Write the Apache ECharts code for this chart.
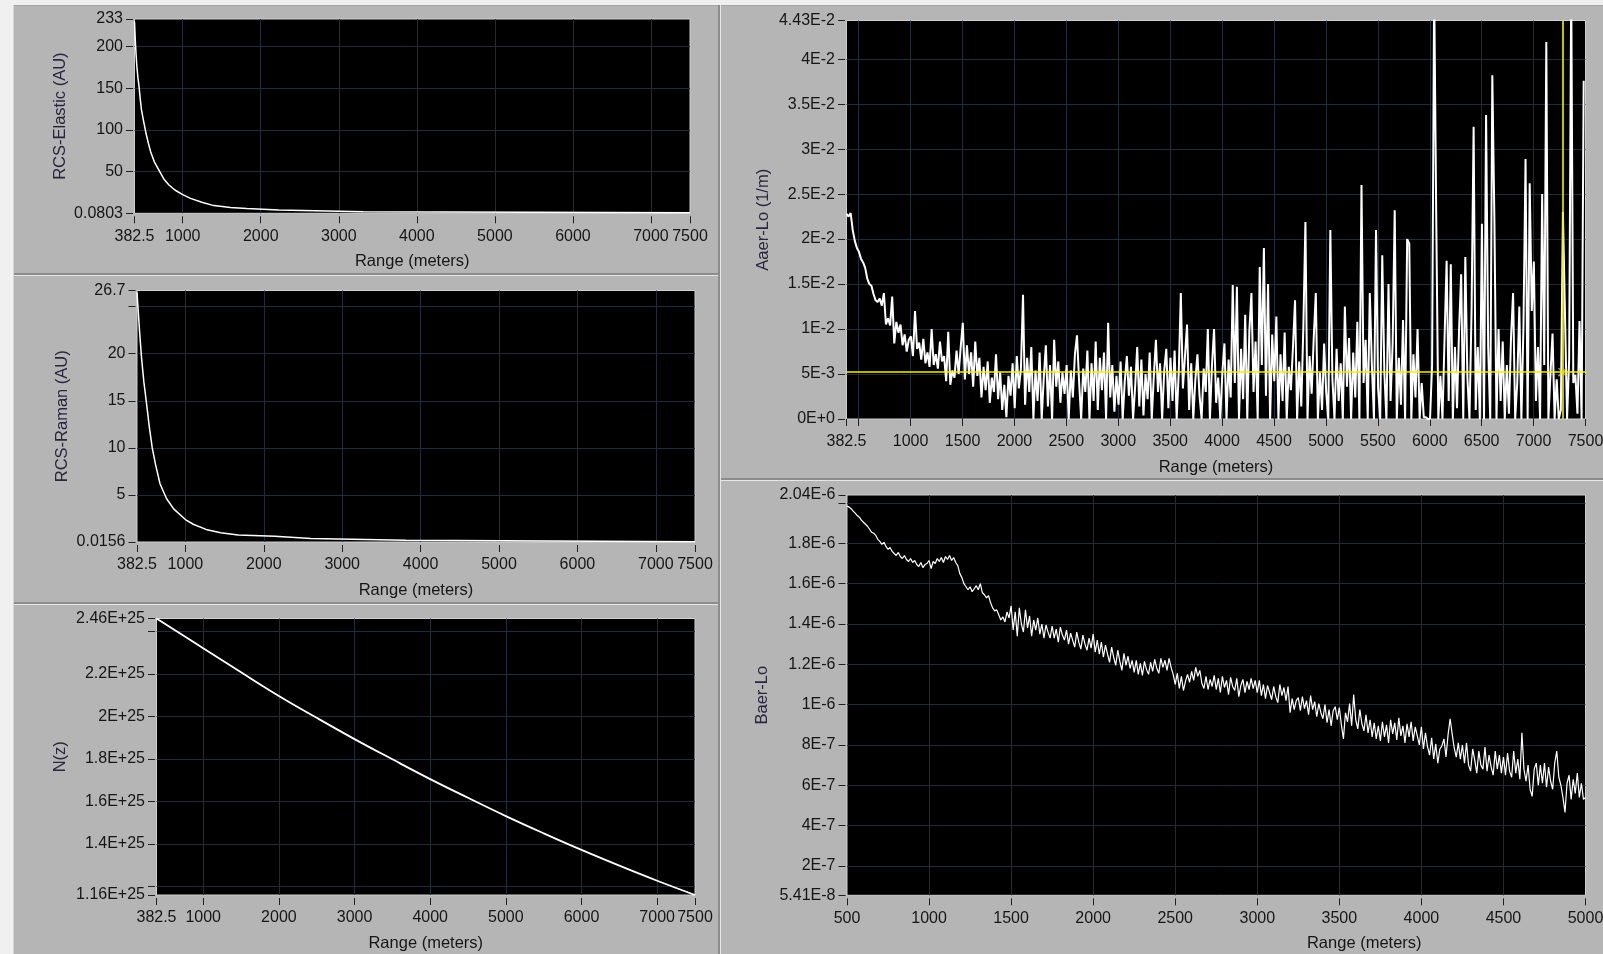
<!DOCTYPE html>
<html><head><meta charset="utf-8">
<script src="https://cdn.jsdelivr.net/npm/echarts@6/dist/echarts.min.js"></script>
<style>html,body{margin:0;padding:0;background:#f0f0f0;overflow:hidden}#c{width:1603px;height:954px}</style>
</head><body><div id="c"></div>
<script>
// ---------------- DATA ----------------
// RCS-Elastic
const elasticRange = [382.5, 388, 395, 403, 412, 426, 441, 456, 472, 500, 530, 560, 589, 640, 706, 760, 824, 900, 1000, 1100, 1255, 1400, 1610, 1620, 1820, 1830, 2230, 2240, 3310, 3320, 7500];
const elasticValue = [230, 218, 203, 190, 177, 163, 152, 137, 124, 110, 96, 84, 74, 61, 50, 41, 34, 28, 22.5, 18, 13, 9.3, 7.0, 6.0, 5.9, 4.0, 3.9, 2.0, 1.9, 0.7, 0.6];
// RCS-Raman
const ramanRange = [382.5, 390, 400, 420, 441, 470, 500, 540, 577, 620, 676, 760, 853, 1000, 1100, 1263, 1450, 1673, 2140, 2150, 2600, 2610, 3810, 3820, 7500];
const ramanValue = [26.5, 25.5, 24.3, 21.8, 19.5, 17.0, 15.0, 12.2, 10.0, 8.2, 6.2, 4.6, 3.5, 2.4, 1.9, 1.35, 1.0, 0.75, 0.62, 0.42, 0.38, 0.22, 0.2, 0.03, 0.03];
// N(z)
const nzRange = [382.5, 1000, 1500, 2000, 2500, 3000, 3500, 4000, 4500, 5000, 5500, 6000, 6500, 7000, 7500];
const nzValue = [2.46e25, 2.32e25, 2.207e25, 2.096e25, 1.993e25, 1.893e25, 1.798e25, 1.705e25, 1.617e25, 1.531e25, 1.45e25, 1.372e25, 1.298e25, 1.227e25, 1.16e25];
// Aaer-Lo, sampled every aaerStep metres from aaerStart, values in units of 1E-3 (1/m)
const aaerStart = 382.5, aaerStep = 20;
const aaerLoMilli = [
 22.8, 22.5, 22.9, 21.0, 19.8, 19.0,
 18.6, 17.8, 17.4, 16.8, 15.6, 15.0, 14.8, 13.9, 13.2, 13.0, 13.4, 12.6, 14.0, 10.5, 11.2, 10.4, 13.6, 8.4, 10.8, 9.6, 10.5, 8.2, 9.4, 7.5, 8.8,
 9.2, 7.0, 12.0, 7.8, 8.5, 6.6, 8.9, 6.2, 7.4, 5.8, 10.0, 6.0, 7.2, 5.6, 8.6, 6.4, 7.0, 4.2, 9.7, 3.8, 5.4, 4.6, 7.6, 5.0, 8.0,
 10.7, 4.4, 8.2, 5.0, 7.4, 3.6, 8.6, 4.8, 6.8, 2.4, 5.8, 3.2, 6.4, 1.8, 4.6, 3.0, 7.2, 2.2, 5.2, 1.0, 3.8, 0.2, 4.8, 2.6, 6.2,
 1.2, 7.0, 3.4, 5.6, 13.8, 1.6, 6.8, 3.0, 8.0, 0.0, 5.4, 2.0, 7.4, 0.0, 4.6, 8.2, 1.4, 6.0, 0.0, 8.8, 3.6, 6.4, 1.8, 5.2, 2.8,
 6.0, 0.0, 5.4, 2.4, 7.2, 9.3, 4.2, 0.0, 5.6, 3.0, 7.6, 0.0, 6.2, 2.0, 8.6, 1.0, 6.8, 3.2, 7.4, 0.0, 10.7, 2.4, 6.0, 0.8, 4.8,
 1.6, 6.4, 0.0, 4.2, 7.0, 2.6, 5.8, 0.0, 3.6, 8.0, 1.4, 6.6, 0.4, 5.0, 2.2, 7.4, 0.0, 4.8, 8.8, 3.0, 6.2, 0.0, 5.4, 7.8, 1.2,
 6.8, 2.0, 7.6, 0.0, 5.2, 14.0, 3.4, 7.0, 10.5, 1.0, 6.2, 0.0, 4.4, 7.2, 2.6, 0.0, 5.6, 3.0, 10.0, 0.0, 6.0, 10.0, 1.8, 4.6, 0.0,
 5.2, 8.4, 0.0, 6.6, 2.4, 14.9, 4.0, 14.7, 0.0, 7.8, 2.2, 11.6, 0.0, 9.8, 14.0, 3.0, 8.6, 0.0, 16.9, 6.0, 19.0, 2.6, 15.0, 0.0, 9.4,
 4.2, 11.4, 0.0, 7.2, 2.0, 9.6, 0.0, 5.8, 3.2, 8.0, 13.2, 0.0, 6.4, 1.4, 10.2, 21.9, 0.0, 7.0, 2.8, 9.0, 14.0, 0.0, 5.2, 1.0, 8.4,
 3.0, 0.0, 21.0, 4.4, 0.0, 7.8, 2.0, 6.2, 0.0, 12.5, 3.6, 9.0, 0.0, 7.4, 2.4, 10.8, 0.0, 26.0, 4.0, 8.8, 0.0, 14.0, 6.0, 0.0, 21.0,
 3.4, 0.0, 18.2, 5.2, 0.0, 15.0, 2.0, 8.4, 23.2, 0.0, 6.8, 1.6, 11.0, 0.0, 20.0, 19.5, 0.0, 7.2, 2.4, 10.0, 0.0, 4.0, 0.2, 0.2, 0.0,
 0.0, 6.0, 48.0, 22.3, 0.0, 4.8, 0.0, 9.0, 17.6, 2.0, 17.2, 0.0, 8.0, 1.2, 10.0, 16.1, 0.0, 18.0, 4.6, 0.0, 12.0, 32.5, 1.0, 8.0, 0.0,
 21.7, 0.0, 33.8, 8.0, 0.0, 38.2, 22.2, 0.0, 10.0, 2.0, 8.6, 0.0, 6.0, 0.6, 9.0, 14.0, 0.0, 4.0, 12.5, 0.0, 10.4, 28.9, 0.0, 26.2, 12.0,
 17.5, 2.0, 8.0, 0.0, 25.0, 6.0, 41.9, 0.0, 5.0, 9.5, 0.0, 4.4, 0.0, 1.0, 23.0, 11.6, 0.0, 6.6, 48.0, 4.0, 4.9, 0.6, 10.9, 0.0, 37.6
];
// Cursor on the Aaer-Lo graph
const cursorRange = 7278, cursorValue = 0.0052;
// Baer-Lo, sampled every baerStep metres from baerStart, values in units of 1E-7
const baerStart = 500, baerStep = 12.5;
const baerLoE7 = [
 19.85, 19.8, 19.72, 19.6, 19.5, 19.38, 19.3, 19.15, 19.05, 18.95, 18.85, 18.7, 18.55, 18.5, 18.4, 18.2, 18.1, 17.95, 18.05, 17.85,
 17.7, 17.8, 17.6, 17.5, 17.4, 17.55, 17.35, 17.25, 17.4, 17.2, 17.1, 17.25, 17.05, 17.15, 16.95, 16.85, 17.05, 16.8, 16.95, 17.0,
 17.15, 16.75, 17.1, 17.0, 17.25, 17.1, 17.3, 17.05, 17.35, 17.2, 17.4, 17.15, 17.3, 17.05, 16.9, 16.5, 16.3, 16.0, 15.85, 15.7,
 15.85, 15.6, 15.75, 15.9, 15.7, 16.0, 15.55, 15.45, 15.3, 15.4, 15.05, 14.8, 14.65, 14.7, 14.45, 14.2, 14.35, 14.1, 14.6, 14.3,
 14.9, 13.7, 14.6, 13.4, 14.8, 14.0, 13.6, 14.7, 13.8, 14.4, 13.4, 14.2, 13.7, 14.3, 13.5, 14.0, 13.3, 13.95, 13.6, 13.3,
 13.9, 13.3, 13.75, 13.1, 13.85, 13.45, 13.2, 13.7, 13.0, 13.55, 13.2, 12.85, 13.6, 13.1, 12.75, 13.45, 13.0, 12.7, 13.3, 12.8,
 13.5, 12.6, 13.2, 12.5, 13.1, 12.35, 12.95, 12.5, 12.1, 12.85, 12.35, 11.95, 12.7, 12.15, 11.7, 12.55, 11.95, 12.4, 11.8, 12.2,
 11.6, 12.2, 11.5, 12.05, 11.45, 12.15, 11.75, 11.5, 12.1, 11.65, 12.25, 11.8, 11.55, 12.3, 11.85, 12.2, 11.7, 12.3, 11.85, 11.5,
 11.0, 11.55, 10.8, 11.4, 10.7, 11.15, 11.5, 11.1, 11.65, 11.2, 11.85, 11.4, 11.7, 11.05, 10.8, 11.4, 10.75, 11.25, 10.9, 11.45,
 10.75, 11.3, 10.6, 11.4, 10.85, 11.2, 10.5, 11.35, 10.9, 10.7, 11.3, 10.4, 10.95, 11.25, 10.6, 11.15, 10.75, 11.3, 10.8, 11.2,
 10.6, 11.2, 10.45, 11.0, 10.3, 10.95, 10.6, 10.25, 10.9, 10.4, 10.1, 11.0, 10.45, 10.85, 10.2, 10.9, 9.6, 10.3, 9.75, 10.2,
 10.35, 9.7, 10.4, 9.8, 10.2, 9.5, 10.45, 9.75, 10.15, 9.4, 10.05, 9.6, 9.3, 10.0, 9.1, 9.75, 8.95, 9.7, 9.9, 9.25,
 9.85, 9.0, 8.3, 9.6, 9.15, 10.05, 8.95, 10.5, 9.25, 8.8, 9.75, 9.05, 8.7, 9.5, 8.6, 9.25, 8.4, 9.1, 8.3, 8.95,
 8.2, 9.15, 8.4, 9.0, 8.1, 9.25, 8.55, 9.1, 8.25, 9.35, 8.45, 8.95, 8.1, 9.05, 8.4, 9.15, 8.2, 8.9, 8.45, 8.0,
 8.9, 7.8, 8.6, 7.9, 7.5, 8.35, 7.3, 8.05, 7.1, 7.8, 7.95, 8.3, 7.4, 8.5, 9.3, 8.55, 7.85, 7.4, 8.1, 7.3,
 8.0, 7.1, 8.1, 7.0, 6.7, 7.8, 7.25, 6.6, 7.7, 7.0, 6.8, 7.9, 6.7, 7.5, 6.9, 6.5, 7.7, 6.8, 7.5, 6.6,
 7.4, 6.5, 7.6, 6.7, 6.4, 7.7, 6.6, 7.3, 6.3, 8.6, 6.8, 6.2, 7.0, 5.8, 5.45, 6.8, 7.1, 6.0, 7.0, 6.1,
 7.1, 5.9, 6.9, 6.2, 5.8, 7.1, 7.7, 6.4, 6.0, 5.4, 4.65, 6.1, 6.5, 5.3, 6.3, 5.6, 6.6, 5.4, 6.1, 5.3, 5.4
];
// Tick values and labels
const rangeTicks = [382.5, 1000, 2000, 3000, 4000, 5000, 6000, 7000, 7500];
const rangeTickLabels = ['382.5', '1000', '2000', '3000', '4000', '5000', '6000', '7000', '7500'];
const elasticTicks = [0.0803, 50, 100, 150, 200, 233];
const elasticTickLabels = ['0.0803', '50', '100', '150', '200', '233'];
const ramanTicks = [0.0156, 5, 10, 15, 20, 25, 26.7];
const ramanTickLabels = ['0.0156', '5', '10', '15', '20', '', '26.7'];
const nzTicks = [1.16e25, 1.2e25, 1.4e25, 1.6e25, 1.8e25, 2e25, 2.2e25, 2.4e25, 2.46e25];
const nzTickLabels = ['1.16E+25', '', '1.4E+25', '1.6E+25', '1.8E+25', '2E+25', '2.2E+25', '', '2.46E+25'];
const aaerRangeTicks = [382.5, 500, 1000, 1500, 2000, 2500, 3000, 3500, 4000, 4500, 5000, 5500, 6000, 6500, 7000, 7500];
const aaerRangeTickLabels = ['382.5', '', '1000', '1500', '2000', '2500', '3000', '3500', '4000', '4500', '5000', '5500', '6000', '6500', '7000', '7500'];
const aaerTicks = [0, 0.005, 0.01, 0.015, 0.02, 0.025, 0.03, 0.035, 0.04, 0.0443];
const aaerTickLabels = ['0E+0', '5E-3', '1E-2', '1.5E-2', '2E-2', '2.5E-2', '3E-2', '3.5E-2', '4E-2', '4.43E-2'];
const baerRangeTicks = [500, 1000, 1500, 2000, 2500, 3000, 3500, 4000, 4500, 5000];
const baerRangeTickLabels = ['500', '1000', '1500', '2000', '2500', '3000', '3500', '4000', '4500', '5000'];
const baerTicks = [5.41e-8, 2e-7, 4e-7, 6e-7, 8e-7, 1e-6, 1.2e-6, 1.4e-6, 1.6e-6, 1.8e-6, 2e-6, 2.04e-6];
const baerTickLabels = ['5.41E-8', '2E-7', '4E-7', '6E-7', '8E-7', '1E-6', '1.2E-6', '1.4E-6', '1.6E-6', '1.8E-6', '', '2.04E-6'];

// ---------------- CHART ----------------
const FONT = "'Liberation Sans', Arial, sans-serif";
const TXT = '#161616';
const NAMECOL = '#29263e';
const GRIDCOL = '#1f2d3b';

function labeler(ticks, labels) {
  return function (v) {
    for (let i = 0; i < ticks.length; i++) {
      if (Math.abs(v - ticks[i]) <= Math.abs(ticks[i]) * 1e-6 + 1e-30) return labels[i];
    }
    return '';
  };
}
function xAx(gi, min, max, ticks, labels, padLeft) {
  return {
    type: 'value', gridIndex: gi, min: min, max: max, offset: 3,
    name: 'Range (meters)', nameLocation: 'middle', nameGap: 37, nameMoveOverlap: false,
    nameTextStyle: { color: TXT, fontFamily: FONT, fontSize: 16.5, padding: [0, 0, 0, padLeft || 0] },
    axisLine: { show: false },
    axisTick: { show: true, length: 7, customValues: ticks, lineStyle: { color: '#202020', width: 1 } },
    axisLabel: { show: true, customValues: ticks, formatter: labeler(ticks, labels), color: TXT, fontFamily: FONT, fontSize: 16, margin: 12, showMinLabel: true, showMaxLabel: true, hideOverlap: false },
    splitLine: { show: true, showMinLine: false, showMaxLine: false, lineStyle: { color: GRIDCOL, width: 1 } }
  };
}
function yAx(gi, min, max, ticks, labels, name, gap) {
  return {
    type: 'value', gridIndex: gi, min: min, max: max, offset: 1.5,
    name: name, nameLocation: 'middle', nameGap: gap, nameMoveOverlap: false,
    nameTextStyle: { color: NAMECOL, fontFamily: FONT, fontSize: 16.5 },
    axisLine: { show: false },
    axisTick: { show: true, length: 7, customValues: ticks, lineStyle: { color: '#202020', width: 1 } },
    axisLabel: { show: true, customValues: ticks, formatter: labeler(ticks, labels), color: TXT, fontFamily: FONT, fontSize: 16, margin: 10, showMinLabel: true, showMaxLabel: true, hideOverlap: false },
    splitLine: { show: true, showMinLine: false, showMaxLine: false, lineStyle: { color: GRIDCOL, width: 1 } }
  };
}
function gridBox(l, t, w, h) {
  return { left: l, top: t, width: w, height: h, show: true, backgroundColor: '#000000', borderColor: '#cfcfcf', borderWidth: 1, containLabel: false, outerBoundsMode: 'none' };
}
function pairs(xs, ys, scale) { return xs.map((x, i) => [x, ys[i] * (scale || 1)]); }
function sampled(start, step, ys, scale) { return ys.map((y, i) => [start + i * step, y * scale]); }
function lineSeries(i, data, width) {
  return { type: 'line', xAxisIndex: i, yAxisIndex: i, data: data, showSymbol: false, symbol: 'none', silent: true,
    lineStyle: { color: '#ffffff', width: width }, itemStyle: { color: '#ffffff' }, clip: true, z: 3 };
}

const bg = [];
function rect(x, y, w, h, c) { bg.push({ type: 'rect', shape: { x: x, y: y, width: w, height: h }, style: { fill: c }, z: -10, silent: true }); }
// panels
rect(14, 5, 704, 268, '#b5b5b5');
rect(14, 276, 704, 326, '#b5b5b5');
rect(14, 605, 704, 349, '#b5b5b5');
rect(721, 5, 882, 473, '#b5b5b5');
rect(721, 481, 882, 473, '#b5b5b5');
// separators
rect(14, 5, 1589, 1, '#a4a4a4');
rect(13, 5, 1, 949, '#d6d6d6');
rect(14, 273, 704, 2, '#8c8c8c');
rect(14, 275, 704, 1, '#e6e6e6');
rect(14, 602, 704, 2, '#8c8c8c');
rect(14, 604, 704, 1, '#e6e6e6');
rect(718, 5, 2, 949, '#8c8c8c');
rect(720, 5, 1, 949, '#e6e6e6');
rect(721, 478, 882, 2, '#8c8c8c');
rect(721, 480, 882, 1, '#e6e6e6');

const chart = echarts.init(document.getElementById('c'), null, { renderer: 'canvas' });
const nzSeries = lineSeries(2, pairs(nzRange, nzValue), 1.8);
nzSeries.smooth = 0.4;
chart.setOption({
  animation: false,
  backgroundColor: '#f0f0f0',
  graphic: { elements: bg },
  grid: [
    gridBox(134.5, 19, 555.5, 194.3),
    gridBox(137, 290.5, 558, 251.5),
    gridBox(156.5, 618.5, 538.5, 276.5),
    gridBox(846.5, 20.5, 739, 398.5),
    gridBox(847, 495, 738.5, 400.3)
  ],
  xAxis: [
    xAx(0, 382.5, 7500, rangeTicks, rangeTickLabels),
    xAx(1, 382.5, 7500, rangeTicks, rangeTickLabels),
    xAx(2, 382.5, 7500, rangeTicks, rangeTickLabels),
    xAx(3, 382.5, 7500, aaerRangeTicks, aaerRangeTickLabels),
    xAx(4, 500, 5000, baerRangeTicks, baerRangeTickLabels, 296)
  ],
  yAxis: [
    yAx(0, 0.0803, 233, elasticTicks, elasticTickLabels, 'RCS-Elastic (AU)', 64),
    yAx(1, 0.0156, 26.7, ramanTicks, ramanTickLabels, 'RCS-Raman (AU)', 65),
    yAx(2, 1.16e25, 2.46e25, nzTicks, nzTickLabels, 'N(z)', 86),
    yAx(3, 0, 0.0443, aaerTicks, aaerTickLabels, 'Aaer-Lo (1/m)', 73),
    yAx(4, 5.41e-8, 2.04e-6, baerTicks, baerTickLabels, 'Baer-Lo', 75)
  ],
  series: [
    lineSeries(0, pairs(elasticRange, elasticValue), 1.5),
    lineSeries(1, pairs(ramanRange, ramanValue), 1.5),
    nzSeries,
    Object.assign(lineSeries(3, sampled(aaerStart, aaerStep, aaerLoMilli, 1e-3), 2), {
      markLine: {
        silent: true, symbol: ['none', 'none'], label: { show: false }, animation: false, precision: 8,
        lineStyle: { color: '#f2f200', width: 1.6, type: 'solid' },
        emphasis: { disabled: true },
        data: [{ xAxis: cursorRange }, { yAxis: cursorValue }]
      }
    }),
    {
      type: 'scatter', xAxisIndex: 3, yAxisIndex: 3, silent: true, z: 6,
      data: [[cursorRange, cursorValue]],
      symbol: 'path://M0,1 L1,0 L10,9 L9,10 Z M9,0 L10,1 L1,10 L0,9 Z', symbolSize: 9,
      itemStyle: { color: '#d8d860' }
    },
    lineSeries(4, sampled(baerStart, baerStep, baerLoE7, 1e-7), 1.2)
  ]
});
</script></body></html>
